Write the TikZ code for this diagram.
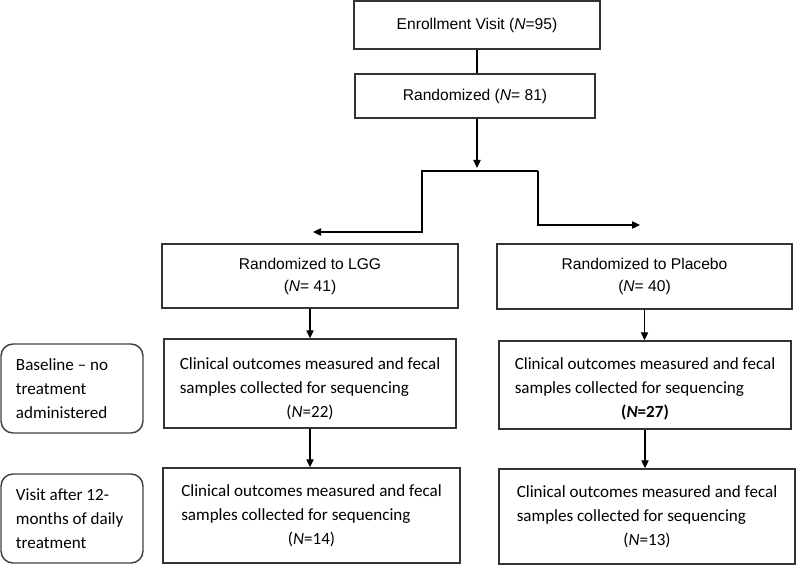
\documentclass[tikz,border=0pt]{standalone}
\usepackage{fontspec}
\setmainfont{Carlito}
\newfontfamily\arialfont{Liberation Sans}
\usepackage{tikz}
\usetikzlibrary{arrows.meta}

\newcommand{\clintext}[2][0pt]{\begin{tabular}{@{}l@{}}\rule{0pt}{\dimexpr12.6pt+#1\relax}Clinical outcomes measured and fecal\\samples collected for sequencing\\\multicolumn{1}{@{}c@{}}{#2}\end{tabular}}

\tikzset{
  armbox/.style={draw=black!80, line width=1.1pt, font=\arialfont\fontsize{11.7}{16.5}\selectfont, align=center, inner sep=0pt},
  clinbox/.style={draw=black!80, line width=1.1pt, font=\fontsize{12.8}{18}\selectfont, inner sep=0pt},
  phasebox/.style={draw=black!75, line width=1.1pt, rounded corners=9pt, font=\fontsize{12.8}{18}\selectfont, align=flush left, text width=84pt, minimum width=106.5pt, minimum height=66.75pt, inner sep=0pt},
  flow/.style={draw=black, line width=0.9pt},
  arrowed/.style={-{Triangle[length=6pt,width=5.5pt]}}
}

\begin{document}
\begin{tikzpicture}[x=0.75pt,y=0.75pt,yscale=-1,xscale=1]
\useasboundingbox (0,0) rectangle (796,566);
% Top boxes
\node[armbox, minimum width=184.5pt, minimum height=36pt] (enroll) at (477,25) {Enrollment Visit (\textit{N}=95)};
\node[armbox, minimum width=180pt, minimum height=33pt] (rand) at (475,96) {Randomized (\textit{N}= 81)};
% Arm boxes
\node[armbox, minimum width=222pt, minimum height=48pt] (lgg) at (310,276) {Randomized to LGG\\(\textit{N}= 41)};
\node[armbox, minimum width=221pt, minimum height=48.75pt] (plac) at (644.5,276.5) {Randomized to Placebo\\(\textit{N}= 40)};
% Sampling boxes
\node[clinbox, minimum width=219pt, minimum height=66.75pt] (lggbase) at (310,383.5) {\clintext[7.5pt]{(\textit{N}=22)}};
\node[clinbox, minimum width=219pt, minimum height=66pt] (placbase) at (645,385) {\clintext[6pt]{\textbf{(\textit{N}=27)}}};
\node[clinbox, minimum width=222.75pt, minimum height=71.25pt] (lggyear) at (311.5,515.5) {\clintext{(\textit{N}=14)}};
\node[clinbox, minimum width=222pt, minimum height=71.25pt] (placyear) at (647,516.5) {\clintext{(\textit{N}=13)}};
% Phase labels
\node[phasebox] (baseline) at (72,388.5) {Baseline – no\\treatment\\administered};
\node[phasebox] (visit) at (72,518.5) {Visit after 12-\\months of daily\\treatment};
% Branch points
\coordinate (fork) at (477,168);
\coordinate (forkL) at (422,171);
\coordinate (forkR) at (538,171);
\coordinate (lggin) at (313,232);
\coordinate (placin) at (640,225);
%Straight Lines
\draw[flow] (enroll.south) -- (enroll.south |- rand.north);
\draw[flow,arrowed] (enroll.south |- rand.south) -- (fork);
\draw[flow,arrowed] (forkR) -- (forkL) |- (lggin);
\draw[flow,arrowed] (forkR) |- (placin);
\draw[flow,arrowed] (lgg.south) -- (lggbase.north);
\draw[flow,arrowed] (lggbase.south) -- (lggbase.south |- lggyear.north);
\draw[flow,arrowed] (plac.south) -- (plac.south |- placbase.north);
\draw[flow,arrowed] (placbase.south) -- (placbase.south |- placyear.north);
\end{tikzpicture}
\end{document}
